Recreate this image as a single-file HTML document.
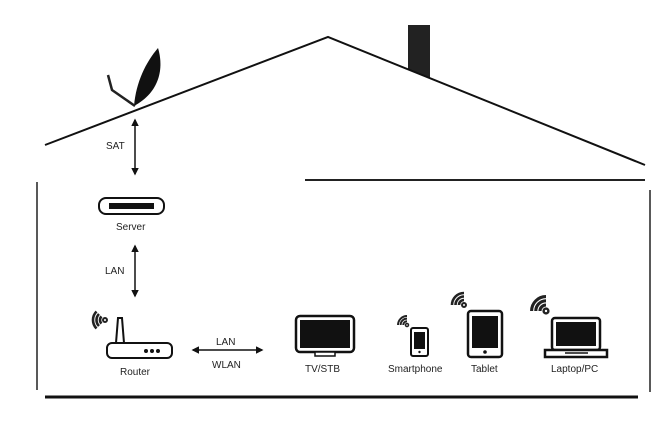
<!DOCTYPE html>
<html><head><style>
body{margin:0;background:#fff;width:670px;height:426px;overflow:hidden}
svg text{font-family:"Liberation Sans",sans-serif;font-size:10px;fill:#222}
</style></head><body>
<svg width="670" height="426" viewBox="0 0 670 426">
<defs>
<marker id="a" viewBox="0 0 10 10" refX="8" refY="5" markerWidth="5" markerHeight="5" orient="auto-start-reverse"><path d="M0,0L10,5L0,10z" fill="#111"/></marker>
<g id="wifi" fill="none" stroke="#222" stroke-width="2.6">
<circle cx="0" cy="0" r="2" fill="#fff" stroke-width="2"/>
<path d="M-5,0A5,5 0 0 1 0,-5"/><path d="M-8.5,0A8.5,8.5 0 0 1 0,-8.5"/><path d="M-12,0A12,12 0 0 1 0,-12"/>
</g>
</defs>
<!-- chimney -->
<path d="M408,25 L430,25 L430,78 L408,69z" fill="#222"/>
<!-- roof -->
<path d="M45,145 L328,37 L645,165" fill="none" stroke="#111" stroke-width="2"/>
<!-- dish -->
<path d="M134,106 C136,82 146,62 158,48 C164,68 160,92 134,106z" fill="#111"/>
<path d="M135,106 L112,90 L108,75" fill="none" stroke="#222" stroke-width="2.5"/>
<!-- walls -->
<line x1="37" y1="182" x2="37" y2="390" stroke="#222" stroke-width="1.5"/>
<line x1="650" y1="190" x2="650" y2="392" stroke="#222" stroke-width="1.5"/>
<line x1="305" y1="180" x2="645" y2="180" stroke="#222" stroke-width="2"/>
<line x1="45" y1="397" x2="638" y2="397" stroke="#111" stroke-width="3"/>
<!-- arrows -->
<line x1="135" y1="120" x2="135" y2="174" stroke="#111" stroke-width="1.5" marker-start="url(#a)" marker-end="url(#a)"/>
<text x="106" y="149">SAT</text>
<line x1="135" y1="246" x2="135" y2="296" stroke="#111" stroke-width="1.5" marker-start="url(#a)" marker-end="url(#a)"/>
<text x="105" y="274">LAN</text>
<line x1="193" y1="350" x2="262" y2="350" stroke="#111" stroke-width="1.5" marker-start="url(#a)" marker-end="url(#a)"/>
<text x="216" y="345">LAN</text><text x="212" y="368">WLAN</text>
<!-- server -->
<rect x="99" y="198" width="65" height="16" rx="7" fill="#fff" stroke="#111" stroke-width="2"/>
<rect x="109" y="203" width="45" height="6" fill="#111"/>
<text x="116" y="230">Server</text>
<!-- router -->
<path d="M116,343 L118,318 L122,318 L124,343" fill="#fff" stroke="#111" stroke-width="2"/>
<rect x="107" y="343" width="65" height="15" rx="5" fill="#fff" stroke="#111" stroke-width="2"/>
<circle cx="146" cy="351" r="2" fill="#111"/><circle cx="152" cy="351" r="2" fill="#111"/><circle cx="158" cy="351" r="2" fill="#111"/>
<use href="#wifi" transform="translate(105,320) rotate(-45)"/>
<text x="120" y="375">Router</text>
<!-- TV -->
<rect x="296" y="316" width="58" height="36" rx="4" fill="#fff" stroke="#111" stroke-width="2.5"/>
<rect x="300" y="320" width="50" height="28" fill="#111"/>
<rect x="315" y="352" width="20" height="4" fill="#fff" stroke="#111" stroke-width="1.5"/>
<text x="305" y="372">TV/STB</text>
<!-- smartphone -->
<rect x="411" y="328" width="17" height="28" rx="2" fill="#fff" stroke="#111" stroke-width="2"/>
<rect x="414" y="332" width="11" height="17" fill="#111"/>
<circle cx="419.5" cy="352" r="1.2" fill="#111"/>
<use href="#wifi" transform="translate(407,325) scale(0.75)"/>
<text x="388" y="372">Smartphone</text>
<!-- tablet -->
<rect x="468" y="311" width="34" height="46" rx="3" fill="#fff" stroke="#111" stroke-width="2.5"/>
<rect x="472" y="316" width="26" height="32" fill="#111"/>
<circle cx="485" cy="352" r="1.8" fill="#111"/>
<use href="#wifi" transform="translate(464,305)"/>
<text x="471" y="372">Tablet</text>
<!-- laptop -->
<rect x="552" y="318" width="48" height="32" rx="3" fill="#fff" stroke="#111" stroke-width="2.5"/>
<rect x="556" y="322" width="40" height="24" fill="#111"/>
<path d="M545,350 L607,350 L607,357 L545,357z" fill="#fff" stroke="#111" stroke-width="2.5"/>
<line x1="565" y1="353" x2="588" y2="353" stroke="#111" stroke-width="1.5"/>
<use href="#wifi" transform="translate(546,311) scale(1.2)"/>
<text x="551" y="372">Laptop/PC</text>
</svg>
</body></html>
